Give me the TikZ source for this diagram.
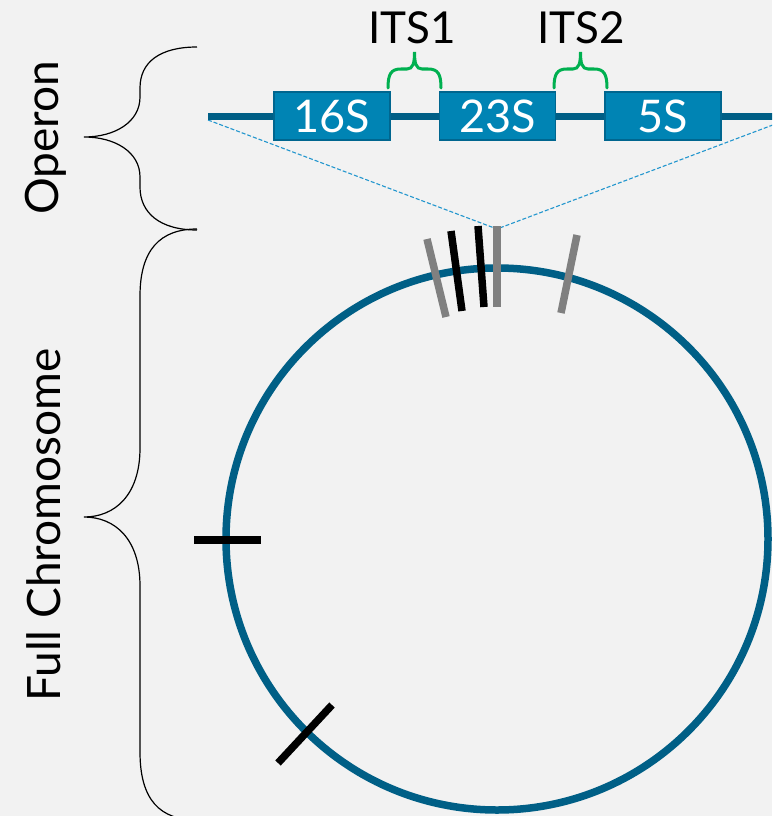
\documentclass[tikz,border=0pt]{standalone}
\usepackage{fontspec}
\setmainfont{Lato}
\definecolor{bg}{HTML}{F2F2F2}
\definecolor{chromblue}{HTML}{005F86}
\definecolor{boxfill}{HTML}{0084B4}
\definecolor{boxedge}{HTML}{00668F}
\definecolor{itsgreen}{HTML}{00B050}
\definecolor{dashblue}{HTML}{2296CE}
\definecolor{tickgray}{HTML}{808080}
\tikzset{
  gene/.style={draw=boxedge, line width=1.5pt, fill=boxfill, text=white,
    minimum width=116pt, minimum height=48pt, inner sep=0pt,
    font=\fontsize{45}{45}\selectfont},
  operonline/.style={draw=chromblue, line width=7pt},
  chromline/.style={draw=chromblue, line width=7.5pt},
  zoomdash/.style={draw=dashblue, line width=1.1pt, dash pattern=on 4pt off 2pt},
  itsbrace/.style={draw=itsgreen, line width=3pt, line cap=round},
  sidebrace/.style={draw=black, line width=1.2pt},
  itslabel/.style={anchor=base, inner sep=0pt, font=\fontsize{44}{44}\selectfont},
  sidelabel/.style={rotate=90, inner sep=0pt, font=\fontsize{46}{46}\selectfont},
  blacktick/.style={draw=black, line width=7.5pt},
  graytick/.style={draw=tickgray, line width=7.5pt},
}
\begin{document}
\begin{tikzpicture}[x=1pt, y=-1pt]
\fill[bg] (0,0) rectangle (772,816);
\useasboundingbox (0,0) rectangle (772,816);
\clip (0,0) rectangle (772,816);

% operon
\coordinate (opL) at (208,116);
\coordinate (opR) at (790,116);
\coordinate (dL) at (208,120);
\coordinate (dR) at (786,120);
\coordinate (apex) at (497,229);
\draw[zoomdash] (dL) -- (apex) -- (dR);
\draw[operonline] (opL) -- (opR);
\node[gene] (b16) at (332,116) {16S};
\node[gene] (b23) at (497.5,116) {23S};
\node[gene] (b5) at (663,116) {5S};

% ITS braces and labels
\draw[itsbrace] (388,88) .. controls (388,74) and (391,69) .. (401,69) -- (407,69)
  .. controls (413,69) and (414.5,63) .. (414.5,52)
  .. controls (414.5,63) and (416,69) .. (422,69) -- (428,69)
  .. controls (438,69) and (441,74) .. (441,88);
\draw[itsbrace] (554,88) .. controls (554,74) and (557,69) .. (567,69) -- (573,69)
  .. controls (579,69) and (580.5,63) .. (580.5,52)
  .. controls (580.5,63) and (582,69) .. (588,69) -- (594,69)
  .. controls (604,69) and (607,74) .. (607,88);
\node[itslabel] (its1) at (412,44) {ITS1};
\node[itslabel] (its2) at (581,44) {ITS2};

% side braces
\draw[sidebrace] (197,47) .. controls (160,47) and (140,62) .. (140,88) -- (140,97)
  .. controls (140,122) and (115,137) .. (84,137)
  .. controls (115,137) and (140,152) .. (140,177) -- (140,187)
  .. controls (140,213) and (160,230) .. (197,230);
\draw[sidebrace] (197,229) .. controls (160,229) and (140,250) .. (140,296) -- (140,448)
  .. controls (140,495) and (115,517) .. (84,517)
  .. controls (115,517) and (140,539) .. (140,586) -- (140,752)
  .. controls (140,800) and (160,820) .. (197,820);
\node[sidelabel] (operon) at (46,138) {Operon};
\node[sidelabel] (fullchrom) at (44,525) {Full Chromosome};

% chromosome
\node[circle, chromline, minimum size=542pt, inner sep=0pt] (chrom) at (497,539) {};

% ticks
\draw[graytick] (427,239) -- (446,317);
\draw[blacktick] (451,231) -- (462,311);
\draw[blacktick] (478,226) -- (484,307);
\draw[graytick] (497,226) -- (497,307);
\draw[graytick] (577,235) -- (561,313);
\draw[blacktick] (194,540) -- (261,540);
\draw[blacktick] (278,763) -- (332,705);
\end{tikzpicture}
\end{document}
